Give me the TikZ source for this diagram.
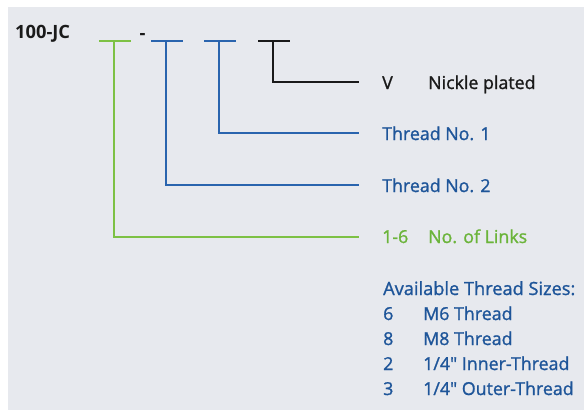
\documentclass[tikz,border=0pt]{standalone}
\usepackage{fontspec}
\setmainfont{Open Sans}
\newfontfamily\medfont{Open Sans}[FakeBold=1.2]
\definecolor{bgc}{HTML}{E7E9EE}
\definecolor{lblue}{HTML}{2A64AE}
\definecolor{tblue}{HTML}{1E5599}
\definecolor{lgreen}{HTML}{7DC144}
\definecolor{tgreen}{HTML}{6BB43A}
\definecolor{tblack}{HTML}{1A1A1A}
\begin{document}
\begin{tikzpicture}[x=1pt,y=-1pt,
  lbl/.style={anchor=base west,inner sep=0pt,font=\fontsize{17.8}{20}\selectfont\medfont},
  code/.style={anchor=base west,inner sep=0pt,font=\fontsize{18.3}{20}\selectfont\bfseries},
  wire/.style={line width=1.8pt}]
\useasboundingbox (0,0) rectangle (584,410);
\fill[white] (0,0) rectangle (584,410);
\fill[bgc] (8,7) rectangle (584,410);
\node[code,tblack] (code) at (15,38.5) {100-JC};
\node[code,tblack] (dash) at (139.5,39) {-};
% T bars
\coordinate (g1) at (99,41); \coordinate (g2) at (131,41); \coordinate (gt) at (114,41);
\coordinate (b1a) at (151,41); \coordinate (b1b) at (183,41); \coordinate (b1t) at (166,41);
\coordinate (b2a) at (204,41); \coordinate (b2b) at (236,41); \coordinate (b2t) at (219,41);
\coordinate (k1) at (258,41); \coordinate (k2) at (290,41); \coordinate (kt) at (273,41);
\coordinate (kc) at (273,82); \coordinate (ke) at (359,82);
\coordinate (b2c) at (219,133); \coordinate (b2e) at (359,133);
\coordinate (b1c) at (166,185); \coordinate (b1e) at (359,185);
\coordinate (gc) at (114,237); \coordinate (ge) at (359,237);
\draw[wire,lgreen] (g1) -- (g2);
\draw[wire,lgreen] (gt) -- (gc) -- (ge);
\draw[wire,lblue] (b1a) -- (b1b);
\draw[wire,lblue] (b1t) -- (b1c) -- (b1e);
\draw[wire,lblue] (b2a) -- (b2b);
\draw[wire,lblue] (b2t) -- (b2c) -- (b2e);
\draw[wire,tblack] (k1) -- (k2);
\draw[wire,tblack] (kt) -- (kc) -- (ke);
% labels
\node[lbl,tblack] (v) at (382,89) {V};
\node[lbl,tblack] (np) at (428,89) {Nickle plated};
\node[lbl,tblue] (t1) at (382,140) {Thread No. 1};
\node[lbl,tblue] (t2) at (382,192) {Thread No. 2};
\node[lbl,tgreen] (r16) at (382,243) {1-6};
\node[lbl,tgreen] (nl) at (428,243) {No. of Links};
\node[lbl,tblue,font=\fontsize{18.2}{20}\selectfont\medfont] (avail) at (383,295) {Available Thread Sizes:};
\node[lbl,tblue] (n6) at (383,320) {6};
\node[lbl,tblue] (m6) at (423,320) {M6 Thread};
\node[lbl,tblue] (n8) at (383,345) {8};
\node[lbl,tblue] (m8) at (423,345) {M8 Thread};
\node[lbl,tblue] (n2) at (383,370) {2};
\node[lbl,tblue] (in) at (423,370) {1/4" Inner-Thread};
\node[lbl,tblue] (n3) at (383,395) {3};
\node[lbl,tblue] (out) at (423,395) {1/4" Outer-Thread};
\end{tikzpicture}
\end{document}
